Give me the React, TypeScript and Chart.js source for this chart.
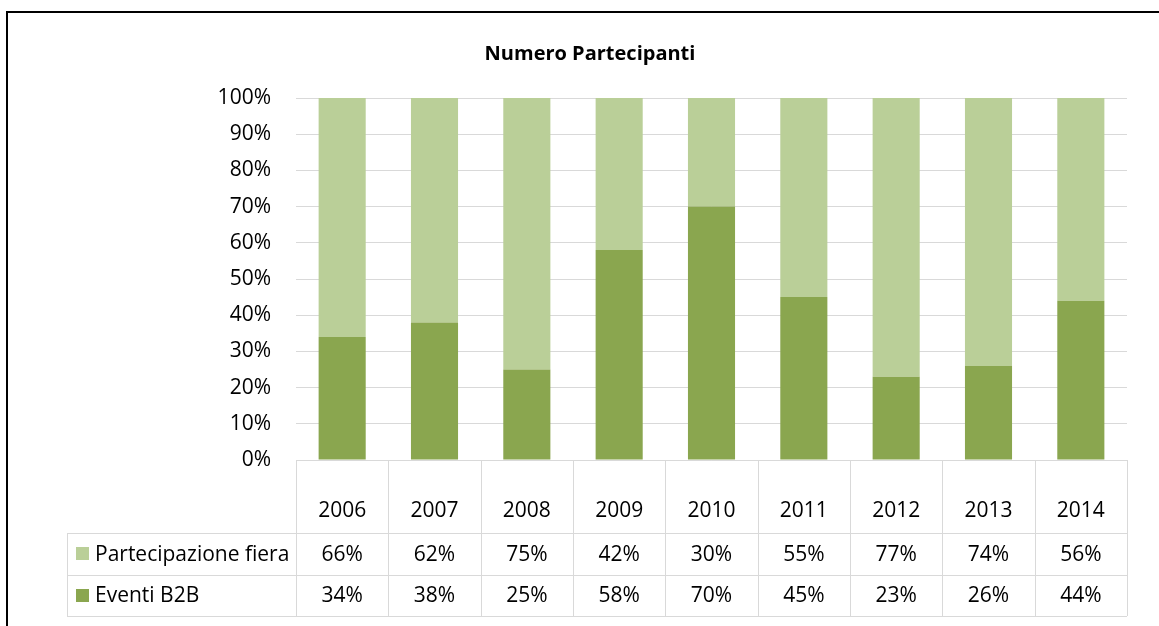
import React, { useEffect, useRef } from "react";
import { Chart, registerables } from "chart.js";

Chart.register(...registerables);

const categories = ["2006", "2007", "2008", "2009", "2010", "2011", "2012", "2013", "2014"];
const eventiB2B = [34, 38, 25, 58, 70, 45, 23, 26, 44];
const partecipazioneFiera = [66, 62, 75, 42, 30, 55, 77, 74, 56];
const seriesNames = ["Partecipazione fiera", "Eventi B2B"];
const titleText = "Numero Partecipanti";

const darkGreen = "#8aa64f";
const lightGreen = "#bacf98";
const gridColor = "#d9d9d9";
const FONT = "'Open Sans', sans-serif";
const FS = 21;

const framePlugin = {
  id: "frame",
  beforeDraw(chart: any) {
    const ctx = chart.ctx;
    ctx.save();
    ctx.fillStyle = "#ffffff";
    ctx.fillRect(0, 0, chart.width, chart.height);
    ctx.fillStyle = "#000000";
    ctx.fillRect(6, 11, chart.width - 6, 2);
    ctx.fillRect(6, 11, 2, chart.height - 11);
    ctx.font = `bold 20px ${FONT}`;
    ctx.textAlign = "center";
    ctx.textBaseline = "middle";
    ctx.fillText(titleText, 590, 54);
    ctx.restore();
  },
};

const tablePlugin = {
  id: "dataTable",
  afterDraw(chart: any) {
    const { ctx, chartArea } = chart;
    const xs = chart.scales.x;
    const n = categories.length;
    const left = chartArea.left;
    const right = chartArea.right;
    const top = chartArea.bottom;
    const colW = (right - left) / n;
    const headerBottom = top + 73;
    const row1Bottom = top + 115;
    const row2Bottom = top + 156;
    const tableLeft = 67;

    ctx.save();
    ctx.strokeStyle = gridColor;
    ctx.lineWidth = 1;
    ctx.beginPath();
    for (let i = 0; i <= n; i++) {
      const x = Math.round(left + i * colW) + 0.5;
      ctx.moveTo(x, top);
      ctx.lineTo(x, row2Bottom);
    }
    [top, headerBottom, row1Bottom, row2Bottom].forEach((y, k) => {
      const yy = Math.round(y) + 0.5;
      ctx.moveTo(k === 0 ? left : tableLeft, yy);
      ctx.lineTo(right, yy);
    });
    ctx.moveTo(tableLeft + 0.5, headerBottom);
    ctx.lineTo(tableLeft + 0.5, row2Bottom);
    ctx.stroke();

    ctx.fillStyle = "#000000";
    ctx.font = `${FS}px ${FONT}`;
    ctx.textAlign = "center";
    ctx.textBaseline = "middle";
    categories.forEach((c, i) => {
      ctx.fillText(c, xs.getPixelForValue(i), top + 51);
    });
    const rows = [
      { name: seriesNames[0], data: partecipazioneFiera, color: lightGreen },
      { name: seriesNames[1], data: eventiB2B, color: darkGreen },
    ];
    const centers = [(headerBottom + row1Bottom) / 2, (row1Bottom + row2Bottom) / 2];
    rows.forEach((r, k) => {
      const cy = centers[k];
      ctx.fillStyle = r.color;
      ctx.fillRect(76, Math.round(cy - 7), 13, 13);
      ctx.fillStyle = "#000000";
      ctx.textAlign = "left";
      ctx.fillText(r.name, 95, cy + 1);
      ctx.textAlign = "center";
      r.data.forEach((v, i) => {
        ctx.fillText(`${v}%`, xs.getPixelForValue(i), cy + 1);
      });
    });
    ctx.restore();
  },
};

export default function App() {
  const ref = useRef<HTMLCanvasElement | null>(null);
  useEffect(() => {
    if (!ref.current) return;
    const chart = new Chart(ref.current, {
      type: "bar",
      data: {
        labels: categories,
        datasets: [
          {
            label: seriesNames[1],
            data: eventiB2B,
            backgroundColor: darkGreen,
            barPercentage: 0.51,
            categoryPercentage: 1,
          },
          {
            label: seriesNames[0],
            data: partecipazioneFiera,
            backgroundColor: lightGreen,
            barPercentage: 0.51,
            categoryPercentage: 1,
          },
        ],
      },
      options: {
        responsive: false,
        animation: false,
        devicePixelRatio: 1,
        layout: { padding: { left: 0, right: 32, top: 98, bottom: 166 } },
        plugins: {
          legend: { display: false },
          title: { display: false },
          tooltip: { enabled: false },
        },
        scales: {
          x: { display: false, stacked: true, offset: true },
          y: {
            stacked: true,
            min: 0,
            max: 100,
            afterFit: (s: any) => {
              s.width = 296;
            },
            border: { display: false },
            grid: { color: gridColor, drawTicks: false, lineWidth: 1 },
            ticks: {
              stepSize: 10,
              padding: 25,
              color: "#000000",
              font: { family: FONT, size: FS },
              callback: (v: any) => `${v}%`,
            },
          },
        },
      },
      plugins: [framePlugin, tablePlugin],
    });
    return () => chart.destroy();
  }, []);
  return (
    <div style={{ position: "fixed", left: 0, top: 0, width: 1159, height: 626, background: "#fff" }}>
      <canvas ref={ref} width={1159} height={626} />
    </div>
  );
}
